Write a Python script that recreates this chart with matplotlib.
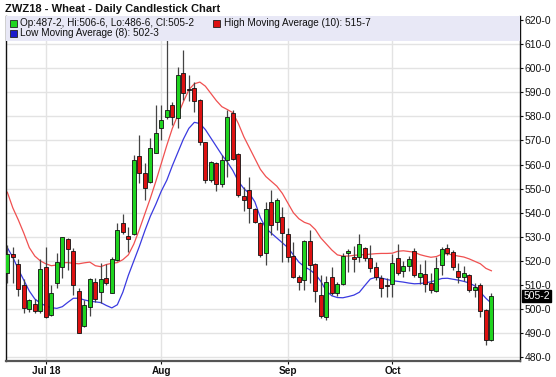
import matplotlib
matplotlib.use("Agg")
import matplotlib.pyplot as plt
from matplotlib.patches import Rectangle
import matplotlib.transforms as mtransforms
import numpy as np

# ---------------- data ----------------
opens = [514.9, 522.9, 518.7, 510.0, 500.0, 502.1, 499.4, 517.3, 497.6, 510.7,
         517.3, 529.0, 524.3, 507.6, 493.1, 501.0, 511.4, 507.2, 512.8, 506.5,
         520.4, 535.9, 530.5, 531.0, 563.4, 556.6, 552.9, 564.6, 575.0, 579.6,
         584.7, 579.2, 597.8, 591.5, 591.8, 586.8, 569.3, 553.6, 560.5, 552.0,
         561.9, 581.5, 564.5, 546.9, 549.5, 541.6, 535.6, 523.1, 544.6, 536.3,
         538.1, 531.0, 522.0, 513.5, 512.1, 528.4, 518.7, 506.0, 496.6, 513.2,
         506.6, 510.4, 523.1, 521.5, 521.8, 525.2, 521.3, 517.6, 513.0, 509.9,
         510.4, 521.1, 515.6, 517.9, 524.1, 513.2, 514.5, 511.0, 507.6, 518.3,
         525.2, 523.8, 516.0, 513.2, 514.2, 507.9, 510.0, 499.6, 487.25]
highs = [526.6, 525.6, 520.8, 512.5, 504.2, 504.3, 520.8, 525.6, 510.0, 523.1,
         530.1, 529.3, 525.2, 508.6, 503.8, 513.0, 512.8, 519.0, 518.7, 521.8,
         535.9, 539.5, 534.2, 564.0, 572.2, 560.8, 570.9, 584.7, 584.7, 611.5,
         586.1, 600.5, 607.5, 597.0, 594.4, 587.0, 569.5, 561.6, 561.2, 564.0,
         582.5, 582.6, 564.9, 550.5, 554.8, 542.0, 536.3, 544.6, 549.4, 546.0,
         542.5, 533.5, 528.0, 514.2, 528.7, 532.8, 519.0, 514.2, 513.7, 517.6,
         511.4, 523.1, 524.8, 526.3, 531.2, 525.9, 526.6, 519.7, 514.2, 512.8,
         523.0, 527.0, 520.0, 522.0, 525.2, 518.9, 520.4, 514.8, 521.8, 525.9,
         527.0, 524.5, 519.0, 518.0, 514.5, 510.7, 510.7, 499.9, 506.75]
lows = [510.7, 510.7, 505.5, 498.2, 498.9, 498.2, 498.3, 496.2, 497.2, 508.6,
        512.8, 516.2, 505.9, 489.9, 492.7, 497.0, 503.1, 502.4, 510.0, 506.5,
        520.0, 531.0, 523.8, 530.8, 552.2, 545.3, 552.2, 564.6, 570.2, 579.0,
        576.4, 575.0, 586.8, 586.5, 581.9, 568.1, 552.2, 552.9, 548.9, 550.8,
        555.0, 561.9, 546.7, 540.5, 535.6, 535.6, 521.8, 518.3, 530.7, 532.8,
        519.7, 519.7, 512.8, 507.9, 507.9, 510.7, 503.1, 496.2, 495.5, 505.8,
        505.4, 510.0, 515.5, 515.3, 519.7, 520.1, 515.5, 512.1, 505.2, 505.2,
        505.0, 514.2, 513.5, 516.0, 513.5, 510.6, 507.2, 506.5, 507.2, 514.2,
        522.5, 516.2, 511.0, 511.8, 507.2, 505.2, 496.9, 485.1, 486.75]
closes = [522.9, 521.5, 508.4, 500.5, 503.6, 499.4, 516.5, 496.9, 506.5, 519.7,
          529.8, 524.8, 510.0, 490.2, 501.5, 512.4, 504.1, 512.4, 511.0, 520.6,
          533.0, 532.1, 529.0, 561.8, 556.3, 550.1, 566.7, 573.2, 578.5, 582.5,
          579.8, 597.1, 589.8, 591.0, 586.4, 569.3, 553.6, 560.9, 552.0, 561.7,
          579.6, 562.4, 547.3, 545.3, 541.8, 536.3, 522.4, 541.4, 534.9, 545.3,
          531.4, 521.5, 513.5, 511.4, 528.3, 518.3, 507.5, 497.0, 511.4, 506.6,
          510.3, 522.1, 524.0, 520.8, 527.0, 521.0, 517.2, 513.2, 508.9, 509.5,
          519.0, 515.1, 517.8, 520.7, 514.2, 514.8, 510.4, 507.9, 517.2, 524.8,
          523.1, 517.3, 513.2, 514.8, 507.9, 509.3, 499.3, 487.2, 505.25]

high_ma10 = [548.5, 542.0, 537.0, 531.5, 525.5, 522.0, 520.0, 518.8, 518.0, 518.3,
             519.2, 519.3, 519.0, 518.8, 519.2, 519.5, 518.0, 517.6, 518.5, 519.0,
             519.3, 520.5, 522.5, 527.0, 533.0, 539.5, 546.0, 553.0, 560.5, 568.0,
             575.0, 580.5, 586.0, 591.0, 593.5, 594.2, 592.5, 589.5, 586.5, 584.0,
             582.8, 581.5, 577.0, 571.5, 567.0, 562.5, 558.0, 555.0, 553.0, 551.0,
             548.0, 544.0, 540.0, 537.5, 536.0, 535.2, 533.0, 529.5, 527.0, 524.5,
             522.5, 522.0, 522.0, 522.3, 522.5, 522.6, 522.8, 523.0, 523.1, 523.1,
             523.2, 524.0, 524.2, 523.9, 523.6, 522.6, 522.0, 521.5, 521.8, 522.8,
             523.0, 522.4, 522.0, 521.6, 520.8, 519.8, 518.8, 516.9, 515.9]
low_ma8 = [525.5, 521.5, 516.5, 512.0, 507.5, 504.2, 502.5, 501.3, 500.6, 500.3,
           501.0, 502.8, 504.5, 504.5, 503.8, 503.3, 503.0, 502.7, 501.5, 500.5,
           501.8, 507.0, 514.0, 520.0, 526.0, 532.5, 538.5, 543.5, 549.0, 553.5,
           559.5, 565.0, 570.5, 575.0, 577.5, 577.0, 574.5, 571.0, 567.5, 564.0,
           561.0, 557.5, 553.0, 550.0, 548.0, 544.5, 538.0, 533.5, 531.5, 529.5,
           527.5, 525.5, 522.5, 519.5, 517.6, 516.3, 514.5, 511.5, 507.5, 505.5,
           504.8, 504.7, 505.2, 505.8, 507.0, 509.8, 512.5, 513.2, 512.9, 512.3,
           511.8, 511.5, 511.2, 510.8, 510.5, 510.6, 510.9, 511.3, 512.0, 512.7,
           512.8, 512.4, 512.0, 511.5, 510.8, 509.6, 507.0, 504.5, 502.4]

month_tick_index = [7, 28, 51, 70]
month_tick_labels = ["Jul 18", "Aug", "Sep", "Oct"]
price_ticks = [480, 490, 500, 510, 520, 530, 540, 550, 560, 570, 580, 590, 600, 610, 620]

title = "ZWZ18 - Wheat - Daily Candlestick Chart"
legend_ohlc = "Op:487-2, Hi:506-6, Lo:486-6, Cl:505-2"
legend_high = "High Moving Average (10): 515-7"
legend_low = "Low Moving Average (8): 502-3"
last_label = "505-2"
last_value = 505.25

# ---------------- figure ----------------
plt.rcParams['font.family'] = ['Liberation Sans', 'DejaVu Sans']
W, H = 556, 377
fig = plt.figure(figsize=(W / 100, H / 100), dpi=100)
fig.patch.set_facecolor('white')

ax_left, ax_right, ax_top, ax_bottom = 5.5, 520, 15.5, 361
ax = fig.add_axes([ax_left / W, 1 - ax_bottom / H, (ax_right - ax_left) / W, (ax_bottom - ax_top) / H])

n = len(opens)
x = np.arange(n)
o = np.array(opens); h = np.array(highs); l = np.array(lows); c = np.array(closes)
up = c >= o

ax.set_xlim(-0.33, 93.2)
ax.set_ylim(478.46, 621.83)

# grid
for p in price_ticks:
    ax.axhline(p, color='#e3e3e3', lw=1.0, zorder=0)
for t in month_tick_index:
    ax.axvline(t, color='#e3e3e3', lw=1.0, zorder=0)

# moving averages
ax.plot(x, high_ma10, color='#f05050', lw=0.9, zorder=2)
ax.plot(x, low_ma8, color='#3a3ae0', lw=0.9, zorder=2)

# candles
ax.vlines(x, l, h, color='#444444', lw=0.9, zorder=3)
body_bottom = np.minimum(o, c)
body_height = np.maximum(np.abs(c - o), 0.35)
colors = np.where(up, '#1fd41f', '#dd1111')
ax.bar(x, body_height, bottom=body_bottom, width=0.76, color=colors,
       edgecolor='#111111', linewidth=0.6, zorder=4)

# spines
ax.spines['top'].set_visible(False)
ax.spines['left'].set_color('#111111')
ax.spines['right'].set_color('#111111')
ax.spines['bottom'].set_color('#555555')
ax.spines['bottom'].set_linewidth(1.6)
ax.spines['left'].set_linewidth(1.0)
ax.spines['right'].set_linewidth(1.0)

# ticks
ax.yaxis.tick_right()
ax.set_yticks(price_ticks)
ax.set_yticklabels([f"{p}-0" for p in price_ticks], fontsize=7.5)
ax.tick_params(axis='y', length=2.5, width=0.8, pad=1, colors='#111111')
ax.set_xticks(month_tick_index)
ax.set_xticklabels(month_tick_labels, fontsize=7.2, fontweight='bold')
ax.tick_params(axis='x', length=2.5, width=0.8, pad=1.0, colors='#111111')

# last value box
trans = mtransforms.blended_transform_factory(ax.transAxes, ax.transData)
ax.text(1.0 + 3.5 / (ax_right - ax_left), last_value, last_label, transform=trans,
        fontsize=7.5, color='white', va='center', ha='left', zorder=10,
        bbox=dict(boxstyle='square,pad=0.1', facecolor='black', edgecolor='black'),
        clip_on=False)

# legend band
def fx(px):
    return px / W

def fy(py):
    return 1 - py / H

leg = Rectangle((fx(ax_left + 0.5), fy(40.5)), fx(ax_right - ax_left - 1), (40.5 - 16) / H,
                transform=fig.transFigure, facecolor='#e8e8f6', edgecolor='none', zorder=5)
fig.patches.append(leg)

def legend_item(px, py, color, text):
    sq = Rectangle((fx(px), fy(py + 3.5)), fx(7), 7 / H, transform=fig.transFigure,
                   facecolor=color, edgecolor='#222222', linewidth=0.6, zorder=6)
    fig.patches.append(sq)
    fig.text(fx(px + 11), fy(py), text, fontsize=7.2, va='center', ha='left', color='#111111', zorder=7)

legend_item(9.5, 23.3, '#1fd41f', legend_ohlc)
legend_item(213, 23.3, '#dd1111', legend_high)
legend_item(9.5, 33.5, '#1a1acc', legend_low)

fig.text(fx(5), fy(8.5), title, fontsize=8, fontweight='bold', va='center', ha='left', color='#111111')

fig.savefig('out.png', dpi=100, facecolor='white')
